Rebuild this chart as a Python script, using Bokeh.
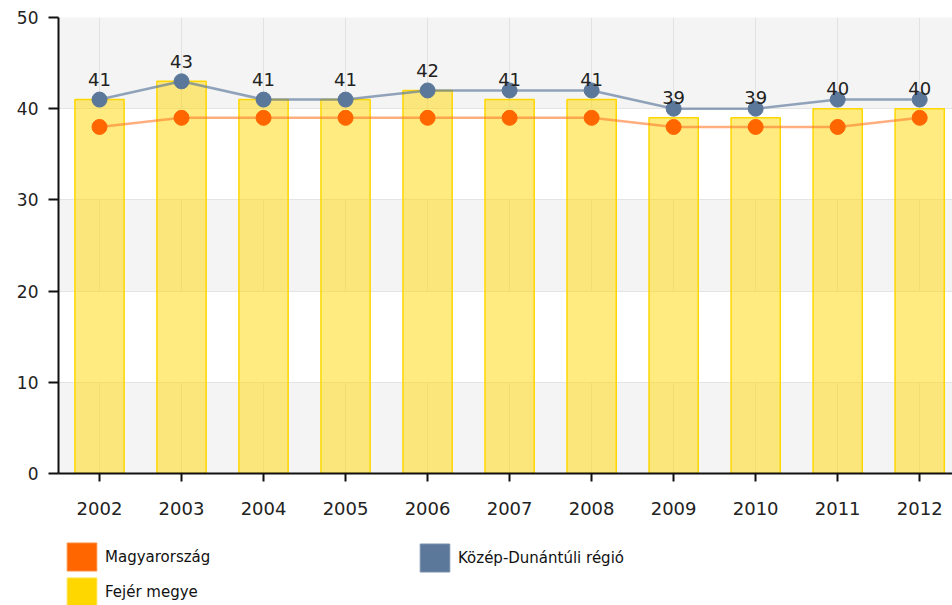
from bokeh.plotting import figure
from bokeh.models import (Range1d, FixedTicker, Legend, LegendItem, ColumnDataSource, LabelSet)
from bokeh.layouts import column
from bokeh.core.properties import value
from bokeh.embed import file_html
from bokeh.resources import INLINE

years = [2002, 2003, 2004, 2005, 2006, 2007, 2008, 2009, 2010, 2011, 2012]
fejer_megye = [41, 43, 41, 41, 42, 41, 41, 39, 39, 40, 40]
kozep_dunantul = [41, 43, 41, 41, 42, 42, 42, 40, 40, 41, 41]
magyarorszag = [38, 39, 39, 39, 39, 39, 39, 38, 38, 38, 39]
y_ticks = [0, 10, 20, 30, 40, 50]

src = ColumnDataSource(dict(x=years, fejer=fejer_megye, kozep=kozep_dunantul,
                            magy=magyarorszag, lab=[str(v) for v in fejer_megye]))

p = figure(width=952, height=530, output_backend="svg", toolbar_location=None,
           x_range=Range1d(2001.5, 2012.4), y_range=Range1d(0, 50),
           min_border_left=58, min_border_right=0, min_border_top=17, min_border_bottom=57)
p.outline_line_color = None
p.background_fill_color = "#f4f4f4"

# grids (white bands on a light grey plot background)
p.ygrid.ticker = FixedTicker(ticks=y_ticks)
p.ygrid.grid_line_color = "#e4e4e4"
p.ygrid.band_fill_color = "white"
p.ygrid.band_fill_alpha = 1.0
p.xgrid.ticker = FixedTicker(ticks=years)
p.xgrid.grid_line_color = "#e2e2e2"

# axes
for ax in (p.xaxis[0], p.yaxis[0]):
    ax.axis_line_color = "#111111"
    ax.axis_line_width = 2
    ax.major_tick_line_color = "#111111"
    ax.major_tick_line_width = 2
    ax.major_tick_in = 0
    ax.minor_tick_line_color = None
    ax.major_label_text_font = "DejaVu Sans"
    ax.major_label_text_color = "#222222"
p.xaxis.ticker = FixedTicker(ticks=years)
p.xaxis.major_tick_out = 8
p.xaxis.major_label_standoff = 20
p.xaxis.major_label_text_font_size = "18px"
p.yaxis.ticker = FixedTicker(ticks=y_ticks)
p.yaxis.major_tick_out = 10
p.yaxis.major_label_standoff = 10
p.yaxis.major_label_text_font_size = "17px"

bars = p.vbar(x="x", top="fejer", width=0.6, source=src, fill_color="#FFD700",
              fill_alpha=0.5, line_color="#FFD700", line_width=1.5)

p.line("x", "magy", source=src, line_color="#FF7a2a", line_width=2.5, line_alpha=0.6)
p.line("x", "kozep", source=src, line_color="#5B7799", line_width=2.5, line_alpha=0.65)
p.scatter("x", "magy", source=src, size=15, fill_color="#FF6600", line_color="#FF6600")
p.scatter("x", "kozep", source=src, size=15, fill_color="#5B7799", line_color="#5B7799")

labels = LabelSet(x="x", y="fejer", text="lab", source=src, y_offset=20,
                  text_align="center", text_baseline="middle",
                  text_font=value("DejaVu Sans"), text_font_size=value("18px"),
                  text_color="#222222")
p.add_layout(labels)

# legend strip below the chart (its renderers lie outside its ranges, only swatches show)
q = figure(width=952, height=75, output_backend="svg", toolbar_location=None,
           x_range=Range1d(0, 1), y_range=Range1d(0, 1),
           min_border_left=0, min_border_right=0, min_border_top=0, min_border_bottom=0,
           x_axis_location=None, y_axis_location=None)
q.outline_line_color = None
q.xgrid.visible = False
q.ygrid.visible = False
sw_mag = q.vbar(x="x", top="magy", width=0.6, source=src, fill_color="#FF6600", line_color="#FF8a3a")
sw_koz = q.vbar(x="x", top="kozep", width=0.6, source=src, fill_color="#5B7799", line_color="#7a90ab")
sw_fej = q.vbar(x="x", top="fejer", width=0.6, source=src, fill_color="#FFD700", line_color="#FFE040")

def mk_legend(items, loc):
    lg = Legend(items=items, orientation="vertical", location=loc)
    lg.glyph_width = 37
    lg.glyph_height = 35
    lg.label_standoff = 5
    lg.spacing = 0
    lg.padding = 0
    lg.margin = 0
    lg.border_line_color = None
    lg.background_fill_alpha = 0
    lg.label_text_font = "DejaVu Sans"
    lg.label_text_font_size = "15px"
    lg.label_text_color = "#111111"
    return lg

leg1 = mk_legend([LegendItem(label="Magyarország", renderers=[sw_mag]),
                  LegendItem(label="Fejér megye", renderers=[sw_fej])], (5, -4))
leg2 = mk_legend([LegendItem(label="Közép-Dunántúli régió", renderers=[sw_koz])], (358, 30))
q.add_layout(leg1)
q.add_layout(leg2)

layout = column(p, q, spacing=0)
open("out.html", "w").write(file_html(layout, INLINE))
